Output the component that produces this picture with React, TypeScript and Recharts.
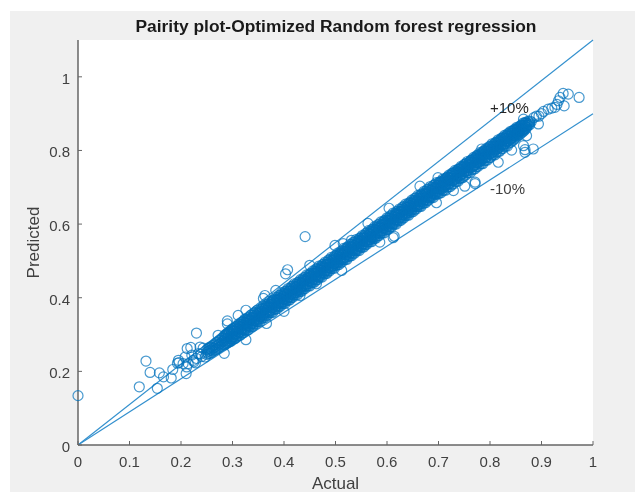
import { ScatterChart, Scatter, XAxis, YAxis, ReferenceLine, ReferenceDot } from "recharts";

const xTicks = [0, 0.1, 0.2, 0.3, 0.4, 0.5, 0.6, 0.7, 0.8, 0.9, 1];
const yTicks = [0, 0.2, 0.4, 0.6, 0.8, 1];

// loose circles that can be read one by one: [actual, predicted]
const lowCluster = [
  [0, .134], [.119, .158], [.132, .228], [.14, .197], [.154, .154], [.158, .196], [.166, .185], [.181, .182], [.184, .205],
  [.21, .194], [.23, .304], [.212, .262], [.219, .265], [.195, .23], [.196, .224], [.193, .222], [.208, .239], [.214, .221],
  [.224, .23], [.234, .248], [.211, .212], [.243, .263], [.247, .239], [.221, .244], [.204, .221], [.237, .266], [.256, .266],
  [.225, .226], [.23, .235], [.24, .24], [.238, .247], [.228, .223],
];
const belowBand = [
  [.284, .249], [.326, .286], [.366, .33], [.4, .363], [.431, .406], [.463, .438], [.512, .474], [.612, .563], [.614, .567],
  [.586, .551], [.696, .658], [.729, .691], [.751, .703], [.771, .714], [.771, .71], [.816, .768], [.884, .804], [.868, .802],
  [.865, .813], [.868, .795], [.842, .801], [.894, .872], [.871, .84],
];
const aboveBand = [
  [.272, .298], [.29, .337], [.29, .329], [.311, .352], [.326, .366], [.363, .406], [.36, .398], [.384, .42], [.403, .465],
  [.407, .476], [.441, .566], [.45, .488], [.499, .542], [.515, .547], [.531, .556], [.563, .602], [.604, .643], [.664, .703],
  [.699, .726], [.784, .804], [.865, .885],
];
const topTail = [
  [.973, .944], [.952, .953], [.942, .955], [.936, .944], [.944, .921], [.933, .935], [.926, .917], [.913, .912], [.904, .906],
  [.92, .915], [.93, .925], [.885, .889], [.89, .893], [.895, .893], [.9, .9], [.88, .878],
];

// the dense band, estimated: [actual, predicted, predicted, predicted]
const band25 = [
  [.250, .259, .252, .246], [.253, .262, .255, .248], [.256, .263, .257, .249], [.259, .266, .258, .251], [.262, .270, .263, .255],
  [.265, .272, .264, .257], [.268, .277, .268, .259], [.271, .279, .272, .262], [.274, .283, .274, .265], [.277, .285, .276, .268],
  [.280, .290, .281, .271], [.283, .292, .283, .273], [.286, .296, .287, .276], [.289, .299, .290, .279], [.292, .302, .293, .282],
  [.295, .305, .295, .285], [.298, .308, .299, .288],
];
const band30 = [
  [.301, .310, .302, .293], [.304, .310, .301, .293], [.307, .318, .310, .302], [.310, .317, .309, .301], [.313, .323, .315, .306],
  [.316, .321, .312, .306], [.319, .327, .319, .313], [.322, .333, .326, .313], [.325, .331, .323, .314], [.328, .337, .330, .324],
  [.331, .341, .330, .323], [.334, .341, .337, .324], [.337, .346, .338, .329], [.340, .347, .337, .330], [.343, .354, .346, .337],
  [.346, .353, .345, .336], [.349, .359, .351, .342], [.352, .358, .348, .342], [.355, .364, .355, .349], [.358, .369, .362, .349],
  [.361, .367, .359, .350], [.364, .373, .366, .360], [.367, .377, .366, .359], [.370, .377, .373, .360], [.373, .382, .374, .365],
  [.376, .383, .373, .366], [.379, .390, .382, .374], [.382, .389, .381, .372], [.385, .395, .387, .378], [.388, .394, .384, .378],
  [.391, .400, .391, .385], [.394, .405, .398, .385], [.397, .403, .395, .386],
];
const band40 = [
  [.400, .409, .402, .396], [.403, .413, .402, .395], [.406, .413, .409, .396], [.409, .418, .410, .401], [.412, .419, .409, .402],
  [.415, .426, .418, .409], [.418, .425, .417, .408], [.421, .431, .423, .414], [.424, .430, .420, .414], [.427, .436, .427, .421],
  [.430, .441, .434, .421], [.433, .439, .431, .422], [.436, .445, .438, .432], [.439, .449, .438, .431], [.442, .449, .445, .432],
  [.445, .454, .446, .437], [.448, .455, .445, .438], [.451, .462, .454, .445], [.454, .461, .453, .444], [.457, .467, .459, .450],
  [.460, .466, .456, .450], [.463, .472, .463, .457], [.466, .477, .470, .457], [.469, .475, .467, .458], [.472, .481, .474, .468],
  [.475, .485, .474, .467], [.478, .485, .481, .468], [.481, .490, .482, .473], [.484, .491, .481, .474], [.487, .498, .490, .481],
  [.490, .497, .489, .480], [.493, .503, .495, .486], [.496, .502, .492, .486], [.499, .508, .499, .493],
];
const band50 = [
  [.502, .513, .506, .493], [.505, .511, .503, .494], [.508, .517, .510, .504], [.511, .521, .510, .503], [.514, .521, .517, .504],
  [.517, .526, .518, .509], [.520, .527, .517, .510], [.523, .534, .526, .517], [.526, .533, .525, .516], [.529, .539, .531, .522],
  [.532, .538, .528, .522], [.535, .544, .535, .529], [.538, .549, .542, .529], [.541, .547, .539, .530], [.544, .553, .546, .540],
  [.547, .557, .546, .539], [.550, .557, .553, .540], [.553, .562, .554, .545], [.556, .563, .553, .546], [.559, .570, .562, .553],
  [.562, .569, .561, .552], [.565, .575, .567, .558], [.568, .574, .564, .558], [.571, .580, .571, .565], [.574, .585, .578, .565],
  [.577, .583, .575, .566], [.580, .589, .582, .576], [.583, .593, .582, .575], [.586, .593, .589, .576], [.589, .598, .590, .581],
  [.592, .599, .589, .582], [.595, .606, .598, .589], [.598, .605, .597, .588],
];
const band60 = [
  [.601, .611, .603, .594], [.604, .610, .600, .594], [.607, .616, .607, .601], [.610, .621, .614, .601], [.613, .619, .611, .602],
  [.616, .625, .618, .612], [.619, .629, .618, .611], [.622, .629, .625, .612], [.625, .634, .626, .617], [.628, .635, .625, .618],
  [.631, .642, .634, .625], [.634, .641, .633, .624], [.637, .647, .639, .630], [.640, .646, .636, .630], [.643, .652, .643, .637],
  [.646, .657, .650, .637], [.649, .655, .647, .638], [.652, .661, .654, .648], [.655, .665, .654, .647], [.658, .665, .661, .648],
  [.661, .670, .662, .653], [.664, .671, .661, .654], [.667, .678, .670, .661], [.670, .677, .669, .660], [.673, .683, .675, .666],
  [.676, .682, .672, .666], [.679, .688, .679, .673], [.682, .693, .686, .673], [.685, .691, .683, .674], [.688, .696, .689, .683],
  [.691, .700, .689, .682], [.694, .700, .696, .683], [.697, .705, .697, .688],
];
const band70 = [
  [.700, .706, .696, .687], [.703, .713, .705, .696], [.706, .712, .704, .695], [.709, .718, .710, .701], [.712, .717, .707, .701],
  [.715, .723, .714, .708], [.718, .728, .721, .708], [.721, .726, .718, .709], [.724, .732, .725, .719], [.727, .736, .725, .718],
  [.730, .736, .732, .719], [.733, .741, .733, .724], [.736, .742, .732, .725], [.739, .749, .741, .732], [.742, .748, .740, .731],
  [.745, .754, .746, .737], [.748, .753, .743, .737], [.751, .759, .750, .744], [.754, .764, .757, .744], [.757, .762, .754, .745],
  [.760, .768, .761, .755], [.763, .772, .761, .754], [.766, .772, .768, .755], [.769, .777, .769, .760], [.772, .778, .768, .761],
  [.775, .785, .777, .768], [.778, .784, .776, .767], [.781, .790, .782, .773], [.784, .789, .779, .773], [.787, .795, .786, .780],
  [.790, .800, .793, .780], [.793, .798, .790, .781], [.796, .804, .797, .791], [.799, .808, .797, .790],
];
const band80 = [
  [.802, .807, .803, .792], [.805, .812, .804, .796], [.808, .813, .803, .797], [.811, .819, .812, .803], [.814, .819, .811, .804],
  [.817, .825, .817, .809], [.820, .824, .815, .809], [.823, .830, .821, .816], [.826, .834, .828, .816], [.829, .833, .825, .817],
  [.832, .839, .832, .826], [.835, .842, .833, .826], [.838, .842, .838, .828], [.841, .848, .840, .833], [.844, .848, .840, .834],
  [.847, .854, .847, .840], [.850, .854, .846, .840], [.853, .859, .851, .845], [.856, .860, .852, .847], [.859, .865, .858, .853],
  [.862, .868, .860, .854], [.865, .868, .864, .857], [.868, .873, .866, .860], [.871, .874, .868, .863], [.874, .879, .873, .868],
  [.877, .880, .875, .870],
];

// scalloped rims and the gaps between them: [actual, above, inside, below]
const rim30 = [
  [.285, .299, .290, .272], [.288, .301, .283, .276], [.291, .306, .297, .278], [.294, .308, .290, .280], [.297, .312, .301, .282],
  [.300, .316, .294, .287], [.303, .316, .309, .288], [.306, .321, .301, .290], [.309, .323, .314, .296], [.312, .329, .306, .297],
  [.315, .328, .322, .298], [.318, .334, .314, .304], [.321, .336, .325, .305], [.324, .342, .317, .311], [.327, .340, .333, .312],
  [.330, .345, .325, .312], [.333, .347, .338, .320], [.336, .353, .330, .321], [.339, .352, .346, .322], [.342, .358, .338, .328],
  [.345, .360, .349, .329], [.348, .366, .341, .335], [.351, .364, .357, .336], [.354, .369, .349, .336], [.357, .371, .362, .344],
  [.360, .377, .354, .345], [.363, .376, .370, .346], [.366, .382, .362, .352], [.369, .384, .373, .353], [.372, .390, .365, .359],
  [.375, .388, .381, .360], [.378, .393, .373, .360], [.381, .395, .386, .368], [.384, .401, .378, .369], [.387, .400, .394, .370],
  [.390, .406, .386, .376], [.393, .408, .397, .377], [.396, .414, .389, .383], [.399, .412, .405, .384],
];
const rim40 = [
  [.402, .417, .397, .384], [.405, .419, .410, .392], [.408, .425, .402, .393], [.411, .424, .418, .394], [.414, .430, .410, .400],
  [.417, .432, .421, .401], [.420, .438, .413, .407], [.423, .436, .429, .408], [.426, .441, .421, .408], [.429, .443, .434, .416],
  [.432, .449, .426, .417], [.435, .448, .442, .418], [.438, .454, .434, .424], [.441, .456, .445, .425], [.444, .462, .437, .431],
  [.447, .460, .453, .432], [.450, .465, .445, .432], [.453, .467, .458, .440], [.456, .473, .450, .441], [.459, .472, .466, .442],
  [.462, .478, .458, .448], [.465, .480, .469, .449], [.468, .486, .461, .455], [.471, .484, .477, .456], [.474, .489, .469, .456],
  [.477, .491, .482, .464], [.480, .497, .474, .465], [.483, .496, .490, .466], [.486, .502, .482, .472], [.489, .504, .493, .473],
  [.492, .510, .485, .479], [.495, .508, .501, .480], [.498, .513, .493, .480],
];
const rim50 = [
  [.501, .515, .506, .488], [.504, .521, .498, .489], [.507, .520, .514, .490], [.510, .526, .506, .496], [.513, .528, .517, .497],
  [.516, .534, .509, .503], [.519, .532, .525, .504], [.522, .537, .517, .504], [.525, .539, .530, .512], [.528, .545, .522, .513],
  [.531, .544, .538, .514], [.534, .550, .530, .520], [.537, .552, .541, .521], [.540, .558, .533, .527], [.543, .556, .549, .528],
  [.546, .561, .541, .528], [.549, .563, .554, .536], [.552, .569, .546, .537], [.555, .568, .562, .538], [.558, .574, .554, .544],
  [.561, .576, .565, .545], [.564, .582, .557, .551], [.567, .580, .573, .552], [.570, .585, .565, .552], [.573, .587, .578, .560],
  [.576, .593, .570, .561], [.579, .592, .586, .562], [.582, .598, .578, .568], [.585, .600, .589, .569], [.588, .606, .581, .575],
  [.591, .604, .597, .576], [.594, .609, .589, .576], [.597, .611, .602, .584],
];
const rim60 = [
  [.600, .617, .594, .585], [.603, .616, .610, .586], [.606, .622, .602, .592], [.609, .624, .613, .593], [.612, .630, .605, .599],
  [.615, .628, .621, .600], [.618, .633, .613, .600], [.621, .635, .626, .608], [.624, .641, .618, .609], [.627, .640, .634, .610],
  [.630, .646, .626, .616], [.633, .648, .637, .617], [.636, .654, .629, .623], [.639, .652, .645, .624], [.642, .657, .637, .624],
  [.645, .659, .650, .632], [.648, .665, .642, .633], [.651, .664, .658, .634], [.654, .670, .650, .640], [.657, .672, .661, .641],
  [.660, .678, .653, .647], [.663, .676, .669, .648], [.666, .681, .661, .648], [.669, .683, .674, .656], [.672, .689, .666, .657],
  [.675, .688, .682, .658], [.678, .694, .674, .664], [.681, .696, .685, .665], [.684, .702, .677, .671], [.687, .700, .693, .672],
  [.690, .705, .685, .672], [.693, .707, .698, .680], [.696, .713, .690, .681], [.699, .712, .706, .682],
];
const rim70 = [
  [.702, .714, .694, .684], [.705, .716, .705, .685], [.708, .722, .697, .691], [.711, .720, .713, .692], [.714, .725, .705, .692],
  [.717, .727, .718, .700], [.720, .733, .710, .701], [.723, .732, .726, .702], [.726, .738, .718, .708], [.729, .740, .729, .709],
  [.732, .746, .721, .715], [.735, .744, .737, .716], [.738, .749, .729, .716], [.741, .751, .742, .724], [.744, .757, .734, .725],
  [.747, .756, .750, .726], [.750, .762, .742, .732], [.753, .764, .753, .733], [.756, .770, .745, .739], [.759, .768, .761, .740],
  [.762, .773, .753, .740], [.765, .775, .766, .748], [.768, .781, .758, .749], [.771, .780, .774, .750], [.774, .786, .766, .756],
  [.777, .788, .777, .757], [.780, .794, .769, .763], [.783, .792, .785, .764], [.786, .797, .777, .764], [.789, .799, .790, .772],
  [.792, .805, .782, .773], [.795, .804, .798, .774], [.798, .810, .790, .780],
];
const rim80 = [
  [.801, .812, .801, .781], [.804, .818, .793, .787], [.807, .816, .809, .788], [.810, .821, .801, .788], [.813, .823, .814, .796],
  [.816, .829, .806, .797], [.819, .828, .822, .798], [.822, .833, .814, .804], [.825, .835, .825, .805], [.828, .841, .817, .811],
  [.831, .840, .833, .812], [.834, .845, .825, .812], [.837, .847, .838, .820], [.840, .852, .831, .822], [.843, .852, .846, .825],
  [.846, .856, .839, .829], [.849, .858, .848, .833], [.852, .863, .843, .837], [.855, .863, .857, .841], [.858, .866, .851, .843],
  [.861, .869, .860, .848], [.864, .874, .856, .851], [.867, .875, .869, .855], [.870, .877, .864, .859],
];

const loose = [...lowCluster, ...belowBand, ...aboveBand, ...topTail];
const bandRows = [
  ...band25, ...band30, ...band40, ...band50, ...band60, ...band70, ...band80,
  ...rim30, ...rim40, ...rim50, ...rim60, ...rim70, ...rim80,
];
const points = [
  ...loose.map(([x, y]) => ({ x, y })),
  ...bandRows.flatMap(([x, ...ys]) => ys.map((y) => ({ x, y }))),
];

const FONT = "'Liberation Sans', Arial, sans-serif";
const BLUE = "#0072BD";
const LINE_BLUE = "#3390CE";
const AXIS = "#666666";
const TEXT = "#404040";

const Ring = (props: any) => (
  <circle cx={props.cx} cy={props.cy} r={5} fill="none" stroke={BLUE} strokeWidth={1.2} strokeOpacity={0.72} />
);

const XTick = ({ x, y, payload }: any) => (
  <g>
    <line x1={x} x2={x} y1={y} y2={y - 4} stroke={AXIS} />
    <text x={x} y={y + 22} textAnchor="middle" fontSize={15} fontFamily={FONT} fill={TEXT}>
      {payload.value}
    </text>
  </g>
);

const YTick = ({ x, y, payload }: any) => (
  <g>
    <line x1={x} x2={x + 4} y1={y} y2={y} stroke={AXIS} />
    <text x={x - 8} y={y + 7} textAnchor="end" fontSize={15} fontFamily={FONT} fill={TEXT}>
      {payload.value}
    </text>
  </g>
);

export default function App() {
  return (
    <div style={{ position: "absolute", left: 0, top: 0, width: 635, height: 492, background: "#fff", overflow: "hidden" }}>
      <div style={{ position: "absolute", left: 10, top: 11, width: 625, height: 481, background: "#f0f0f0" }} />
      <div style={{ position: "absolute", left: 78, top: 40, width: 515, height: 405, background: "#fff" }} />
      <div
        style={{
          position: "absolute", left: 0, top: 16, width: 672, textAlign: "center", fontFamily: FONT,
          fontWeight: "bold", fontSize: 17.4, color: "#1a1a1a", lineHeight: "20px",
          filter: "blur(0.4px)",
        }}
      >
        Pairity plot-Optimized Random forest regression
      </div>
      <div style={{ position: "absolute", left: 0, top: 0, filter: "blur(0.4px)" }}>
        <ScatterChart width={635} height={492} margin={{ top: 40, right: 42, bottom: 0, left: 0 }}>
          <XAxis
            type="number" dataKey="x" domain={[0, 1]} ticks={xTicks} height={47} interval={0}
            stroke={AXIS} strokeWidth={1.5} tickLine={false} tickSize={0} tickMargin={0} tick={XTick}
            label={{ value: "Actual", position: "insideBottom", offset: 3, fontSize: 17, fontFamily: FONT, fill: TEXT }}
          />
          <YAxis
            type="number" dataKey="y" domain={[0, 1.1]} ticks={yTicks} width={78} interval={0}
            stroke={AXIS} strokeWidth={1.5} tickLine={false} tickSize={0} tickMargin={0} tick={YTick}
            label={{ value: "Predicted", angle: -90, position: "insideLeft", offset: 33, textAnchor: "middle", fontSize: 17, fontFamily: FONT, fill: TEXT }}
          />
          <ReferenceLine segment={[{ x: 0, y: 0 }, { x: 1, y: 1.1 }]} stroke={LINE_BLUE} strokeWidth={1.2} />
          <ReferenceLine segment={[{ x: 0, y: 0 }, { x: 1, y: 0.9 }]} stroke={LINE_BLUE} strokeWidth={1.2} />
          <Scatter data={points} isAnimationActive={false} shape={Ring} />
          <ReferenceDot x={0.8} y={0.917} r={0} label={{ value: "+10%", position: "right", offset: 0, fontSize: 15, fontFamily: FONT, fill: "#262626" }} />
          <ReferenceDot x={0.8} y={0.695} r={0} label={{ value: "-10%", position: "right", offset: 0, fontSize: 15, fontFamily: FONT, fill: TEXT }} />
        </ScatterChart>
      </div>
    </div>
  );
}
